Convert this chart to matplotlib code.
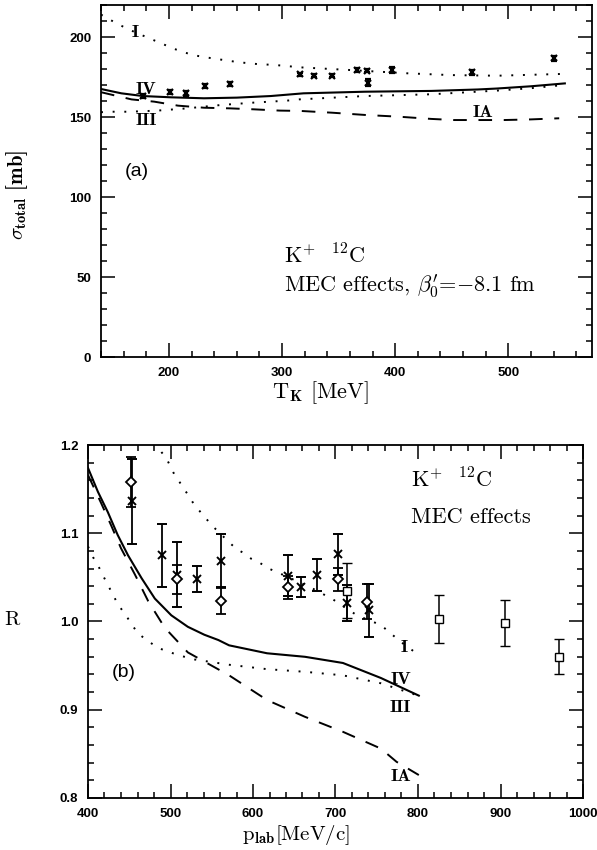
import matplotlib
matplotlib.use("Agg")
import matplotlib.pyplot as plt
from matplotlib.ticker import MultipleLocator

plt.rcParams['mathtext.fontset'] = 'cm'
plt.rcParams['axes.unicode_minus'] = False

# ---------------- panel (a) data ----------------
T_I = [140, 155, 170, 190, 205, 221, 238, 262, 278, 294, 317, 359, 411, 449, 490, 547]
sig_I = [214, 208, 203, 197, 192.5, 188.7, 186.7, 184.2, 183.1, 182.5, 181, 179.4, 177.3, 176.2, 175.8, 176.9]

T_IV = [140, 158, 177, 202, 231, 260, 290, 319, 373, 432, 473, 490, 520, 550]
sig_IV = [167.5, 164.8, 163.1, 162.3, 161.7, 162.1, 163.1, 164.8, 165.8, 166.3, 167.2, 167.8, 169.2, 171]

T_III = [140, 148, 165, 190, 216, 246, 275, 304, 315, 373, 432, 490, 520, 549]
sig_III = [153, 153.3, 153.3, 154, 155.4, 157.5, 159, 160.2, 161, 163.1, 164.2, 166.5, 168, 170]

T_IA = [140, 167, 187, 208, 231, 254, 275, 298, 316, 344, 373, 403, 432, 452, 479, 496, 520, 545]
sig_IA = [165.5, 161, 159.6, 157.1, 155.8, 155.4, 154.8, 154, 153.8, 152.7, 151.3, 150.2, 148.8, 148.1, 148.1, 148.1, 148.5, 149.2]

T_data = [177, 201, 215, 232, 254, 316, 328, 344, 366, 375, 376, 397, 468, 540]
sig_data = [163.1, 165.4, 164.8, 169.6, 170.6, 176.7, 175.8, 175.8, 179.4, 179, 171.5, 179.4, 178, 186.7]
sig_err = [1.5, 1.2, 1.5, 1.2, 1.2, 1.0, 1.0, 1.0, 1.0, 1.0, 2.0, 2.0, 1.5, 1.5]

# ---------------- panel (b) data ----------------
p_IV = [400, 412, 424, 436, 448.5, 465, 481, 501, 521, 541, 558, 571, 617, 663, 709, 755, 801]
R_IV = [1.174, 1.147, 1.124, 1.098, 1.075, 1.049, 1.026, 1.007, 0.994, 0.985, 0.979, 0.973, 0.964, 0.960, 0.953, 0.936, 0.916]

p_IA = [400, 416, 428, 440, 457, 473, 493, 509, 521, 571, 617, 663, 709, 755, 774, 801]
R_IA = [1.166, 1.134, 1.109, 1.083, 1.053, 1.023, 0.993, 0.977, 0.965, 0.939, 0.911, 0.892, 0.875, 0.856, 0.841, 0.826]

p_III = [400, 406, 412, 416, 426, 436, 448, 460, 471, 485, 509, 529, 571, 617, 663, 709, 755, 797]
R_III = [1.085, 1.073, 1.064, 1.056, 1.038, 1.020, 1.004, 0.987, 0.979, 0.970, 0.962, 0.957, 0.951, 0.946, 0.943, 0.939, 0.930, 0.917]

p_I = [481, 489, 495, 505, 511, 523, 529, 541, 550, 572, 580, 590, 598, 609, 619, 629, 669, 689, 697, 726, 755, 779, 801]
R_I = [1.203, 1.192, 1.185, 1.166, 1.158, 1.141, 1.132, 1.119, 1.109, 1.089, 1.082, 1.077, 1.071, 1.066, 1.060, 1.056, 1.039, 1.029, 1.025, 1.007, 0.996, 0.977, 0.962]

p_cross = [453, 490, 508, 532, 561, 643, 658, 678, 703, 714, 741]
R_cross = [1.136, 1.075, 1.053, 1.048, 1.069, 1.052, 1.039, 1.053, 1.076, 1.021, 1.013]
e_cross = [0.048, 0.036, 0.037, 0.015, 0.030, 0.023, 0.011, 0.018, 0.023, 0.020, 0.030]

p_diam = [452, 508, 561, 643, 703, 738]
R_diam = [1.158, 1.048, 1.023, 1.039, 1.048, 1.0225]
e_diam = [0.028, 0.0165, 0.015, 0.013, 0.013, 0.020]

p_sq = [714, 825, 905, 971]
R_sq = [1.035, 1.003, 0.998, 0.960]
e_sq = [0.031, 0.027, 0.026, 0.020]

DOT = (0, (1, 5))
DASH = (0, (7, 6))
CM = 'cmr10'
CMB = 'cmb10'

fig = plt.figure(figsize=(5.97, 8.5), dpi=100)
axa = fig.add_axes([101/597, (850-357)/850, 491/597, 352/850])
axb = fig.add_axes([88/597, 52/850, 495/597, 353/850])


def style(ax):
    for s in ax.spines.values():
        s.set_linewidth(1.3)
    ax.tick_params(which='both', direction='in', top=True, right=True, width=1.1,
                   labelsize=9.5, labelfontfamily='Liberation Sans', pad=7)
    ax.tick_params(which='major', length=10)
    ax.tick_params(which='minor', length=4)
    for lab in ax.get_xticklabels() + ax.get_yticklabels():
        lab.set_fontweight('bold')


# ---- panel (a)
axa.plot(T_I, sig_I, color='k', lw=1.4, ls=DOT)
axa.plot(T_IV, sig_IV, color='k', lw=1.5, ls='-')
axa.plot(T_III, sig_III, color='k', lw=1.4, ls=DOT)
axa.plot(T_IA, sig_IA, color='k', lw=1.4, ls=DASH)
axa.errorbar(T_data, sig_data, yerr=sig_err, fmt='x', color='k', ms=4, mew=1.6,
             capsize=2.5, elinewidth=1.5, capthick=1.5)
axa.set_xlim(140, 574)
axa.set_ylim(0, 220)
axa.xaxis.set_major_locator(MultipleLocator(100))
axa.xaxis.set_minor_locator(MultipleLocator(20))
axa.yaxis.set_major_locator(MultipleLocator(50))
axa.yaxis.set_minor_locator(MultipleLocator(10))
style(axa)

axa.text(170, 203, 'I', fontfamily=CMB, fontsize=13, ha='center', va='center')
axa.text(180, 167.5, 'IV', fontfamily=CMB, fontsize=13, ha='center', va='center')
axa.text(180, 147.8, 'III', fontfamily=CMB, fontsize=13, ha='center', va='center')
axa.text(478, 152.8, 'IA', fontfamily=CMB, fontsize=13, ha='center', va='center')
axa.text(171.6, 116, '(a)', fontfamily='Liberation Sans', fontsize=14, ha='center', va='center')
axa.text(302, 58.7, r'K$^{+}$  $^{12}$C', fontfamily=CM, fontsize=16, ha='left', va='baseline')
axa.text(302, 40.6, r"MEC effects, $\beta_0^{\prime}$=$-$8.1 fm", fontfamily=CM, fontsize=16,
         ha='left', va='baseline')

fig.text(320/597, 1-393/850, r'T$_{\mathbf{K}}$ [MeV]', fontfamily=CM, fontsize=16,
         ha='center', va='center')
fig.text(17/597, 1-195/850, r'$\sigma_{\mathbf{total}}$ [mb]', fontfamily=CMB, fontsize=15,
         rotation=90, ha='center', va='center')

# ---- panel (b)
axb.plot(p_I, R_I, color='k', lw=1.4, ls=DOT)
axb.plot(p_IV, R_IV, color='k', lw=1.5, ls='-')
axb.plot(p_III, R_III, color='k', lw=1.4, ls=DOT)
axb.plot(p_IA, R_IA, color='k', lw=1.4, ls=DASH)
axb.errorbar(p_cross, R_cross, yerr=e_cross, fmt='x', color='k', ms=6, mew=1.4,
             capsize=3.5, elinewidth=1.3, capthick=1.3)
axb.errorbar(p_diam, R_diam, yerr=e_diam, fmt='D', color='k', mfc='white', ms=5, mew=1.3,
             capsize=3.5, elinewidth=1.3, capthick=1.3)
axb.errorbar(p_sq, R_sq, yerr=e_sq, fmt='s', color='k', mfc='white', ms=6, mew=1.0,
             capsize=3.5, elinewidth=1.1, capthick=1.1)
axb.set_xlim(400, 1000)
axb.set_ylim(0.8, 1.2)
axb.xaxis.set_major_locator(MultipleLocator(100))
axb.xaxis.set_minor_locator(MultipleLocator(20))
axb.yaxis.set_major_locator(MultipleLocator(0.1))
axb.yaxis.set_minor_locator(MultipleLocator(0.02))
axb.set_yticks([0.8, 0.9, 1.0, 1.1, 1.2])
axb.set_yticklabels(['0.8', '0.9', '1.0', '1.1', '1.2'])
style(axb)

axb.text(783, 0.971, 'I', fontfamily=CMB, fontsize=13, ha='center', va='center')
axb.text(779, 0.934, 'IV', fontfamily=CMB, fontsize=13, ha='center', va='center')
axb.text(779, 0.902, 'III', fontfamily=CMB, fontsize=13, ha='center', va='center')
axb.text(779, 0.824, 'IA', fontfamily=CMB, fontsize=13, ha='center', va='center')
axb.text(443.6, 0.942, '(b)', fontfamily='Liberation Sans', fontsize=14, ha='center', va='center')
axb.text(791.5, 1.152, r'K$^{+}$  $^{12}$C', fontfamily=CM, fontsize=16, ha='left', va='baseline')
axb.text(791.5, 1.1116, 'MEC effects', fontfamily=CM, fontsize=16, ha='left', va='baseline')

fig.text(296/597, 1-835/850, r'p$_{\mathbf{lab}}$[MeV/c]', fontfamily=CM, fontsize=15,
         ha='center', va='center')
fig.text(12/597, 1-620/850, 'R', fontfamily=CM, fontsize=15, ha='center', va='center')

fig.savefig('out.png', dpi=100)
